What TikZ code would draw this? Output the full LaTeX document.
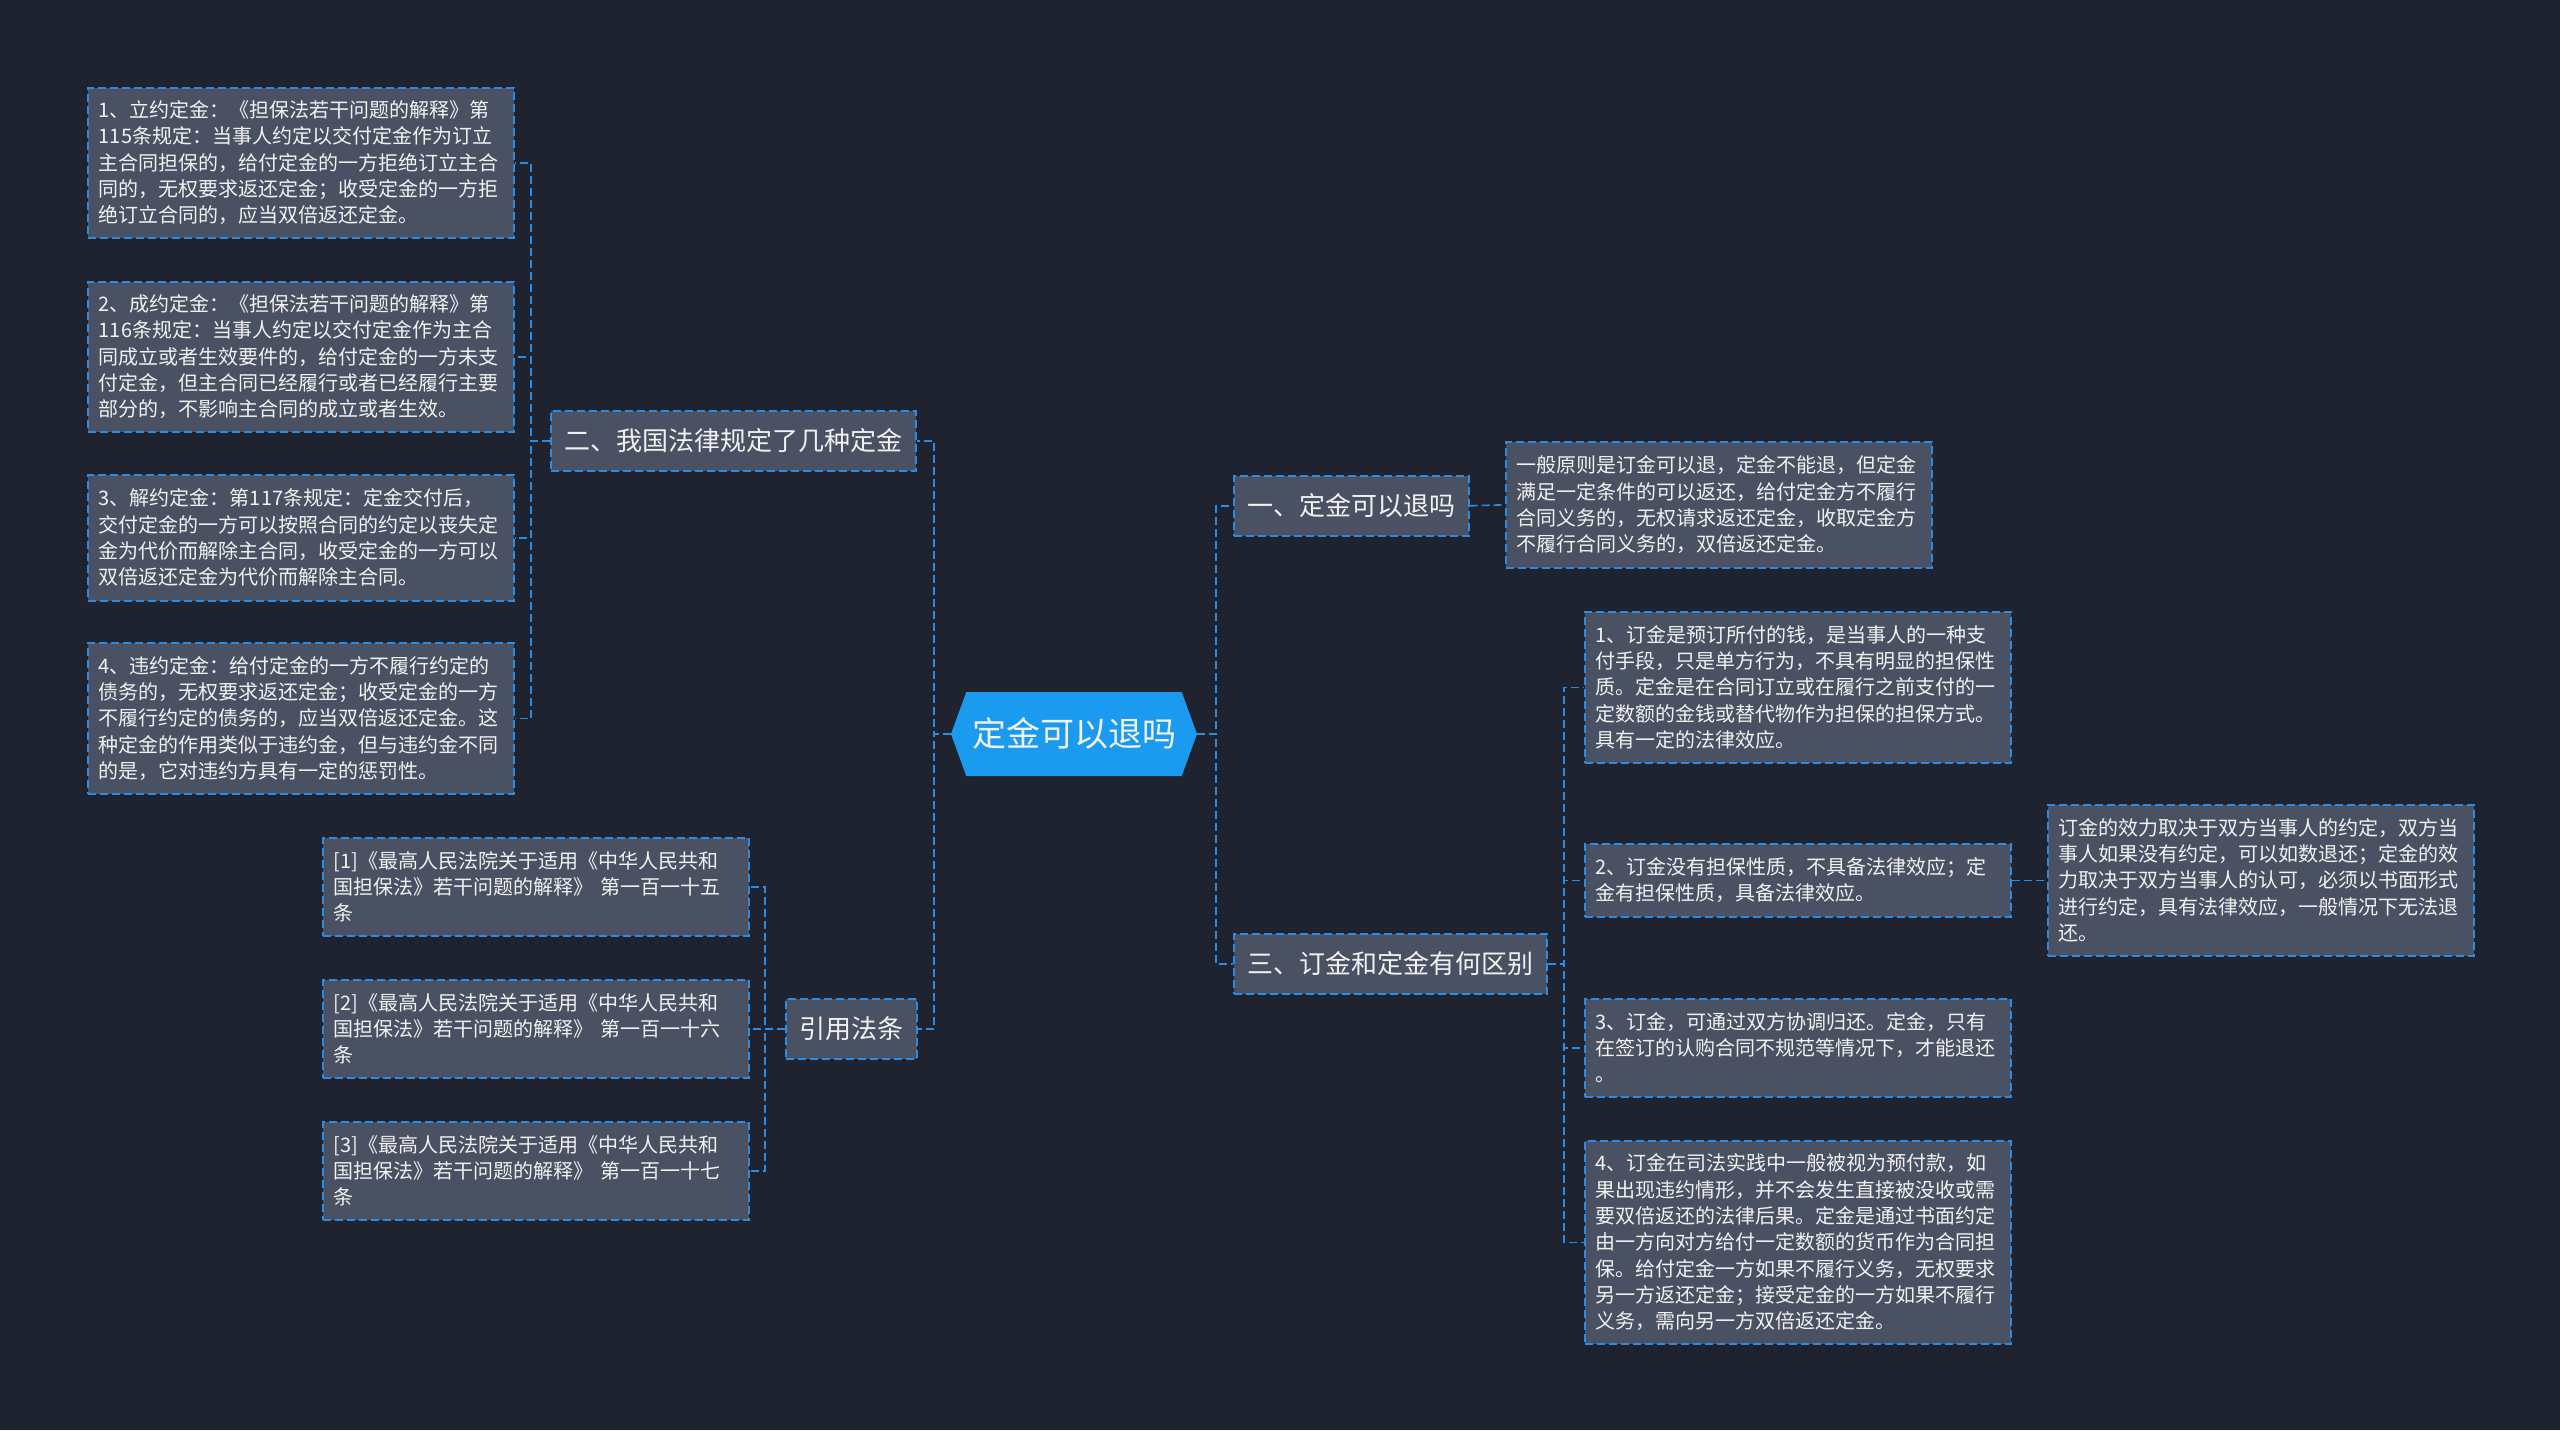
\documentclass[tikz,border=0pt]{standalone}
\usepackage{fontspec}
\setmainfont{Noto Sans CJK SC}
\usetikzlibrary{shapes.symbols}
\definecolor{night}{HTML}{1F2330}
\definecolor{slate}{HTML}{4A5162}
\definecolor{wire}{HTML}{2B8CE6}
\definecolor{sky}{HTML}{1A9BEF}
\definecolor{paper}{HTML}{F2F2F2}

\begin{document}
\begin{tikzpicture}[x=1pt,y=-1pt,text=paper,
  link/.style={wire,dash pattern=on 8pt off 4pt,line width=1.6pt},
  branch/.style={draw=wire,dash pattern=on 8pt off 4pt,line width=1.6pt,
    fill=slate,anchor=north west,minimum height=60pt,
    inner xsep=13.5pt,inner ysep=0pt,
    font=\fontsize{26}{30}\selectfont},
  leaf/.style={draw=wire,dash pattern=on 8pt off 4pt,line width=1.6pt,
    fill=slate,anchor=north west,text width=404pt,align=left,
    inner xsep=11pt,inner ysep=0pt,minimum height=#1,
    font=\fontsize{20}{26.3}\selectfont}]
  % page and margins of the reference
  \fill[night] (0,0) rectangle (2560,1430);
  \useasboundingbox (0,0) rectangle (2560,1430);

  \node[signal,signal to=west and east,signal pointer angle=140,
        fill=sky,minimum width=246pt,minimum height=84pt,inner sep=0pt,
        font=\fontsize{34}{40}\selectfont] (root) at (1074,734)
    {定金可以退吗};

  % left half
  \node[branch] (kinds) at (550,410) {二、我国法律规定了几种定金};
  \node[branch] (cite) at (785,998) {引用法条};

  \node[leaf=150pt] (k1) at (87,87)
    {1、立约定金：《担保法若干问题的解释》第\\
     115条规定：当事人约定以交付定金作为订立\\
     主合同担保的，给付定金的一方拒绝订立主合\\
     同的，无权要求返还定金；收受定金的一方拒\\
     绝订立合同的，应当双倍返还定金。};
  \node[leaf=150pt] (k2) at (87,281)
    {2、成约定金：《担保法若干问题的解释》第\\
     116条规定：当事人约定以交付定金作为主合\\
     同成立或者生效要件的，给付定金的一方未支\\
     付定金，但主合同已经履行或者已经履行主要\\
     部分的，不影响主合同的成立或者生效。};
  \node[leaf=126pt] (k3) at (87,474)
    {3、解约定金：第117条规定：定金交付后，\\
     交付定金的一方可以按照合同的约定以丧失定\\
     金为代价而解除主合同，收受定金的一方可以\\
     双倍返还定金为代价而解除主合同。};
  \node[leaf=151pt] (k4) at (87,642)
    {4、违约定金：给付定金的一方不履行约定的\\
     债务的，无权要求返还定金；收受定金的一方\\
     不履行约定的债务的，应当双倍返还定金。这\\
     种定金的作用类似于违约金，但与违约金不同\\
     的是，它对违约方具有一定的惩罚性。};

  \node[leaf=98pt] (c1) at (322,837)
    {[1]《最高人民法院关于适用《中华人民共和\\
     国担保法》若干问题的解释》 第一百一十五\\
     条};
  \node[leaf=98pt] (c2) at (322,979)
    {[2]《最高人民法院关于适用《中华人民共和\\
     国担保法》若干问题的解释》 第一百一十六\\
     条};
  \node[leaf=98pt] (c3) at (322,1121)
    {[3]《最高人民法院关于适用《中华人民共和\\
     国担保法》若干问题的解释》 第一百一十七\\
     条};

  % right half
  \node[branch] (refund) at (1233,475) {一、定金可以退吗};
  \node[branch] (differ) at (1233,933) {三、订金和定金有何区别};

  \node[leaf=126pt] (rule) at (1505,441)
    {一般原则是订金可以退，定金不能退，但定金\\
     满足一定条件的可以返还，给付定金方不履行\\
     合同义务的，无权请求返还定金，收取定金方\\
     不履行合同义务的，双倍返还定金。};
  \node[leaf=151pt] (d1) at (1584,611)
    {1、订金是预订所付的钱，是当事人的一种支\\
     付手段，只是单方行为，不具有明显的担保性\\
     质。定金是在合同订立或在履行之前支付的一\\
     定数额的金钱或替代物作为担保的担保方式。\\
     具有一定的法律效应。};
  \node[leaf=73pt] (d2) at (1584,843)
    {2、订金没有担保性质，不具备法律效应；定\\
     金有担保性质，具备法律效应。};
  \node[leaf=151pt] (d2x) at (2047,804)
    {订金的效力取决于双方当事人的约定，双方当\\
     事人如果没有约定，可以如数退还；定金的效\\
     力取决于双方当事人的认可，必须以书面形式\\
     进行约定，具有法律效应，一般情况下无法退\\
     还。};
  \node[leaf=98pt] (d3) at (1584,998)
    {3、订金，可通过双方协调归还。定金，只有\\
     在签订的认购合同不规范等情况下，才能退还\\
     。};
  \node[leaf=203pt] (d4) at (1584,1140)
    {4、订金在司法实践中一般被视为预付款，如\\
     果出现违约情形，并不会发生直接被没收或需\\
     要双倍返还的法律后果。定金是通过书面约定\\
     由一方向对方给付一定数额的货币作为合同担\\
     保。给付定金一方如果不履行义务，无权要求\\
     另一方返还定金；接受定金的一方如果不履行\\
     义务，需向另一方双倍返还定金。};

  % bus lines
  \coordinate (lbus) at (934,0);
  \coordinate (rbus) at (1216,0);
  \coordinate (kbus) at (531,0);
  \coordinate (cbus) at (765,0);
  \coordinate (dbus) at (1564,0);

  \foreach \kid in {kinds,cite}
    \draw[link] (root.west) -- (root.west -| lbus) |- (\kid.east);
  \foreach \kid in {refund,differ}
    \draw[link] (root.east) -- (root.east -| rbus) |- (\kid.west);
  \foreach \kid in {k1,k2,k3,k4}
    \draw[link] (kinds.west) -- (kinds.west -| kbus) |- (\kid.east);
  \foreach \kid in {c1,c2,c3}
    \draw[link] (cite.west) -- (cite.west -| cbus) |- (\kid.east);
  \foreach \kid in {d1,d2,d3,d4}
    \draw[link] (differ.east) -- (differ.east -| dbus) |- (\kid.west);
  \draw[link] (refund.east) -- (rule.west);
  \draw[link] (d2.east) -- (d2x.west);
\end{tikzpicture}
\end{document}
